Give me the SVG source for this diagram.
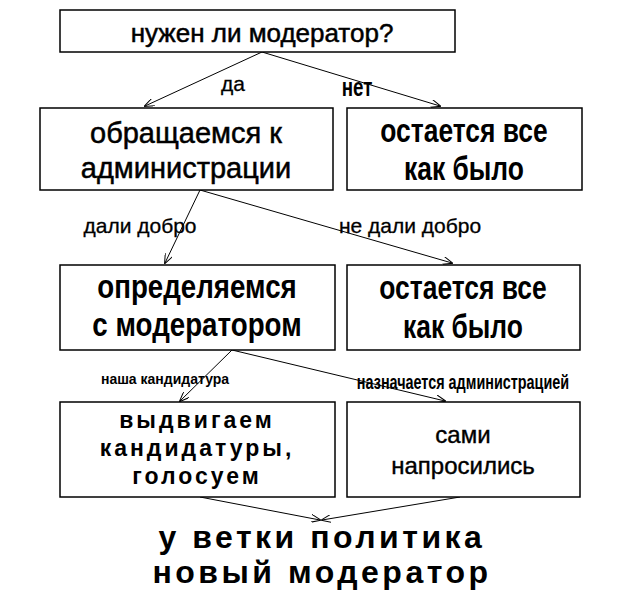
<svg xmlns="http://www.w3.org/2000/svg" width="623" height="599" viewBox="0 0 623 599">
<style>
.b{fill:#fff;stroke:#000;stroke-width:1.5}
.t{font-family:"Liberation Sans",Arial,sans-serif;text-anchor:middle;fill:#000}
.n{font-family:"Liberation Sans",Arial,sans-serif;text-anchor:middle;fill:#000;font-weight:bold}
.c line{stroke:#000;stroke-width:1;marker-end:url(#a)}
</style>
<defs><marker id="a" markerWidth="10" markerHeight="8" refX="9" refY="4" orient="auto" markerUnits="userSpaceOnUse"><path d="M0,0L10,4L0,8" fill="none" stroke="#000"/></marker></defs>
<rect width="623" height="599" fill="#fff"/>
<g class="c">
<line x1="262" y1="52" x2="145" y2="106"/>
<line x1="262" y1="52" x2="440" y2="106"/>
<line x1="200" y1="190" x2="165" y2="263"/>
<line x1="200" y1="190" x2="452" y2="263"/>
<line x1="232" y1="350" x2="180" y2="401"/>
<line x1="232" y1="350" x2="445" y2="401"/>
<line x1="200" y1="497" x2="320" y2="520"/>
<line x1="460" y1="497" x2="322" y2="520"/>
</g>
<g id="n1"><rect class="b" x="60" y="10" width="395" height="42"/><text class="t" x="262" y="42" font-size="26" stroke="#000" stroke-width="0.5">нужен ли модератор?</text></g>
<g id="n2"><rect class="b" x="40" y="108" width="293" height="82"/><text class="t" x="186" y="143" font-size="29" stroke="#000" stroke-width="0.5">обращаемся к</text><text class="t" x="186" y="178" font-size="29" stroke="#000" stroke-width="0.5">администрации</text></g>
<g id="n3"><rect class="b" x="347" y="108" width="235" height="82"/><text class="n" x="464" y="142" font-size="33" transform="translate(464 0) scale(0.8 1) translate(-464 0)">остается все</text><text class="n" x="464" y="180" font-size="33" transform="translate(464 0) scale(0.8 1) translate(-464 0)">как было</text></g>
<g id="n4"><rect class="b" x="60" y="265" width="275" height="85"/><text class="n" x="197" y="298" font-size="33" transform="translate(197 0) scale(0.84 1) translate(-197 0)">определяемся</text><text class="n" x="197" y="336" font-size="33" transform="translate(197 0) scale(0.84 1) translate(-197 0)">с модератором</text></g>
<g id="n5"><rect class="b" x="347" y="265" width="233" height="85"/><text class="n" x="463" y="299" font-size="33" transform="translate(463 0) scale(0.8 1) translate(-463 0)">остается все</text><text class="n" x="463" y="338" font-size="33" transform="translate(463 0) scale(0.8 1) translate(-463 0)">как было</text></g>
<g id="n6"><rect class="b" x="60" y="402" width="275" height="95"/><text class="t" x="197" y="428" font-size="23" font-weight="bold" letter-spacing="3">выдвигаем</text><text class="t" x="197" y="456" font-size="23" font-weight="bold" letter-spacing="3">кандидатуры,</text><text class="t" x="197" y="484" font-size="23" font-weight="bold" letter-spacing="3">голосуем</text></g>
<g id="n7"><rect class="b" x="347" y="402" width="233" height="95"/><text class="t" x="463" y="443" font-size="24" stroke="#000" stroke-width="0.4">сами</text><text class="t" x="463" y="474" font-size="24" stroke="#000" stroke-width="0.4">напросились</text></g>
<g id="n8"><text class="t" x="322" y="548" font-size="32" font-weight="bold" letter-spacing="3.5">у ветки политика</text><text class="t" x="322" y="583" font-size="32" font-weight="bold" letter-spacing="3.5">новый модератор</text></g>
<g id="labels">
<text class="t" x="233" y="91" font-size="21" stroke="#000" stroke-width="0.3">да</text>
<text class="n" x="357" y="96" font-size="25" transform="translate(357 0) scale(0.75 1) translate(-357 0)">нет</text>
<text class="t" x="140" y="233" font-size="21" stroke="#000" stroke-width="0.3">дали добро</text>
<text class="t" x="410" y="233" font-size="21" stroke="#000" stroke-width="0.3">не дали добро</text>
<text class="t" x="165" y="384" font-size="14" font-weight="bold">наша кандидатура</text>
<text class="n" x="463" y="389" font-size="20" transform="translate(463 0) scale(0.72 1) translate(-463 0)">назначается администрацией</text>
</g>
</svg>
